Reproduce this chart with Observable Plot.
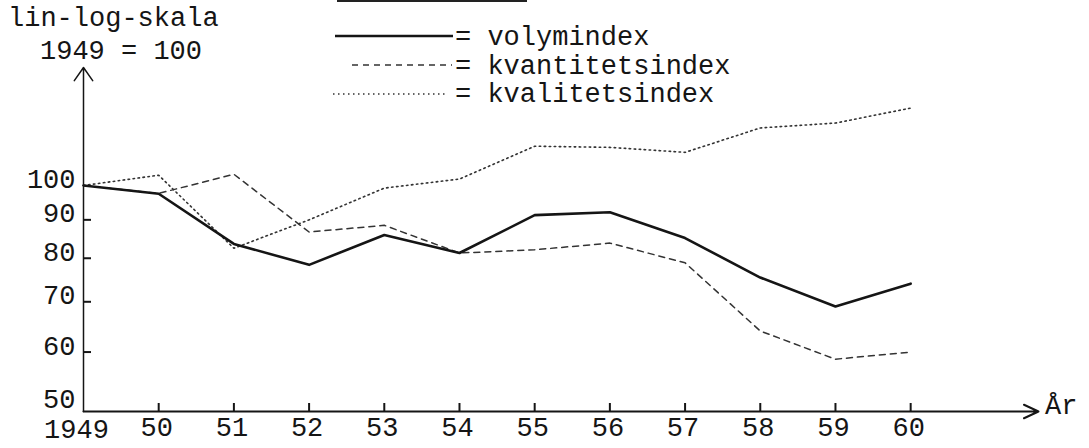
<!DOCTYPE html>
<html>
<head>
<meta charset="utf-8">
<script src="https://cdn.jsdelivr.net/npm/d3@7"></script>
<script src="https://cdn.jsdelivr.net/npm/@observablehq/plot@0.6"></script>
<style>
  html, body { margin: 0; padding: 0; background: #fff; }
  #wrap { position: relative; width: 1089px; height: 448px; overflow: hidden; font-family: "Liberation Mono", "DejaVu Sans Mono", monospace; color: #151515; }
  .t { position: absolute; font-size: 27px; line-height: 27px; white-space: pre; }
  .sw { position: absolute; overflow: visible; }
</style>
</head>
<body>
<div id="wrap">
  <div id="chart"></div>
  <svg class="sw" style="left:0;top:0" width="1089" height="110">
    <line x1="337" x2="527" y1="1" y2="1" stroke="#222" stroke-width="2"/>
    <line x1="335" x2="453" y1="36" y2="36" stroke="#151515" stroke-width="2.6"/>
    <line x1="352" x2="452" y1="65" y2="65" stroke="#333" stroke-width="1.5" stroke-dasharray="6,5"/>
    <line x1="333" x2="447" y1="94" y2="94" stroke="#333" stroke-width="1.6" stroke-dasharray="1.5,3.5"/>
  </svg>
  <div class="t" style="left:8px;top:6px;">lin-log-skala</div>
  <div class="t" style="left:40px;top:39px;">1949 = 100</div>
  <div class="t" style="left:455px;top:25px;">= volymindex</div>
  <div class="t" style="left:455px;top:54px;">= kvantitetsindex</div>
  <div class="t" style="left:455px;top:82px;">= kvalitetsindex</div>
  <div class="t" style="left:1045px;top:394px;">År</div>
</div>
<script>
const years = [1949, 1950, 1951, 1952, 1953, 1954, 1955, 1956, 1957, 1958, 1959, 1960];
const volymindex      = [100, 97.5, 83.6, 78.4, 85.9, 81.3, 91.3, 92.1, 85.1, 75.4, 69.0, 74.0];
const kvantitetsindex = [100, 97.6, 103.5, 86.7, 88.5, 81.3, 82.1, 83.8, 78.9, 64.0, 58.7, 60.0];
const kvalitetsindex  = [100, 103.2, 82.5, 90.0, 99.2, 102.0, 112.8, 112.4, 110.7, 119.3, 121.1, 126.8];
const xTickLabels = ["1949", "50", "51", "52", "53", "54", "55", "56", "57", "58", "59", "60"];
const yTicks = [50, 60, 70, 80, 90, 100];
const yMinorTicks = [60, 70, 80, 90];
const xMax = 1961.7;
const yMax = 143.6;

const toRows = (vals) => years.map((year, i) => ({year, value: vals[i]}));
const font = "Liberation Mono";
const ink = "#151515";
const xLabel = d => xTickLabels[years.indexOf(d)];

const chart = Plot.plot({
  width: 1089,
  height: 448,
  marginLeft: 83,
  marginRight: 51,
  marginTop: 67,
  marginBottom: 37,
  style: {fontFamily: font, fontSize: "27px", color: ink, background: "white", overflow: "visible"},
  x: {domain: [1949, xMax], label: null},
  y: {type: "log", domain: [50, yMax], label: null},
  marks: [
    // x axis with arrow
    Plot.arrow([{a: 1949, b: xMax}], {x1: "a", x2: "b", y1: () => 50, y2: () => 50, stroke: ink, strokeWidth: 2, headLength: 12, headAngle: 50}),
    // y axis with arrow
    Plot.arrow([{a: 50, b: yMax}], {x1: () => 1949, x2: () => 1949, y1: "a", y2: "b", stroke: ink, strokeWidth: 1.5, headLength: 16, headAngle: 70}),
    // x tick marks (pointing up)
    Plot.axisX(years.slice(1), {tickSize: 8, dy: -8, tickFormat: () => "", stroke: ink, strokeWidth: 2, label: null}),
    // x tick labels
    Plot.axisX(years.slice(0, 1), {tickSize: 0, tickPadding: 7, dx: -7, tickFormat: xLabel, fontFamily: font, fontSize: 27, fill: ink, label: null}),
    Plot.axisX(years.slice(1), {tickSize: 0, tickPadding: 5, dx: -2, tickFormat: xLabel, fontFamily: font, fontSize: 27, fill: ink, label: null}),
    // y tick marks (pointing right)
    Plot.axisY(yMinorTicks, {tickSize: 8, dx: 8, tickFormat: () => "", stroke: ink, strokeWidth: 2, label: null}),
    // y tick labels
    Plot.axisY(yTicks.slice(1), {tickSize: 0, tickPadding: 8, dy: -6, tickFormat: d => String(d), fontFamily: font, fontSize: 27, fill: ink, label: null}),
    Plot.axisY(yTicks.slice(0, 1), {tickSize: 0, tickPadding: 8, dy: -12, tickFormat: d => String(d), fontFamily: font, fontSize: 27, fill: ink, label: null}),
    // series
    Plot.line(toRows(kvalitetsindex), {x: "year", y: "value", stroke: "#333", strokeWidth: 1.6, strokeDasharray: "1.5,3.5"}),
    Plot.line(toRows(kvantitetsindex), {x: "year", y: "value", stroke: "#333", strokeWidth: 1.5, strokeDasharray: "6,5"}),
    Plot.line(toRows(volymindex), {x: "year", y: "value", stroke: ink, strokeWidth: 2.6})
  ]
});
chart.style.position = "absolute";
chart.style.left = "0px";
chart.style.top = "0px";
document.getElementById("chart").appendChild(chart);
</script>
</body>
</html>
